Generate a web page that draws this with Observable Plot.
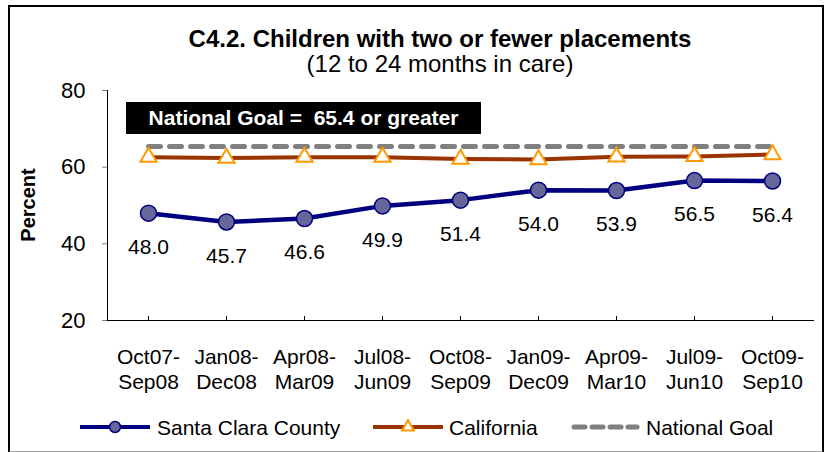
<!DOCTYPE html>
<html>
<head>
<meta charset="utf-8">
<script src="https://cdn.jsdelivr.net/npm/d3@7"></script>
<script src="https://cdn.jsdelivr.net/npm/@observablehq/plot@0.6"></script>
<style>
  html, body { margin: 0; padding: 0; background: #fff; }
  #wrap { position: relative; width: 826px; height: 452px; overflow: hidden; font-family: "Liberation Sans", Arial, sans-serif; }
  #border { position: absolute; left: 8px; top: 5px; width: 812px; height: 444px; border: 2px solid #000; border-bottom-color: #a0a0a0; }
  .abs { position: absolute; white-space: pre; }
  #title { left: 0; width: 880px; text-align: center; top: 25px; font-size: 24px; font-weight: bold; color: #000; }
  #subtitle { left: 0; width: 880px; text-align: center; top: 50px; font-size: 24px; color: #000; }
  #goalbox { left: 126px; top: 102px; width: 355px; height: 32px; background: #000; color: #fff; font-weight: bold; font-size: 21px; line-height: 32px; text-align: center; }
  #ylabel { left: 28px; top: 205px; transform: translate(-50%, -50%) rotate(-90deg); font-size: 20px; font-weight: bold; }
  #chart { position: absolute; left: 0; top: 0; }
  #legend { position: absolute; left: 0; top: 410px; }
</style>
</head>
<body>
<div id="wrap">
  <div id="chart"></div>
  <div id="border"></div>
  <div id="title" class="abs">C4.2. Children with two or fewer placements</div>
  <div id="subtitle" class="abs">(12 to 24 months in care)</div>
  <div id="goalbox" class="abs">National Goal =  65.4 or greater</div>
  <div id="ylabel" class="abs">Percent</div>
  <svg id="legend" width="826" height="36"></svg>
</div>
<script>
const categories = ["Oct07-\nSep08", "Jan08-\nDec08", "Apr08-\nMar09", "Jul08-\nJun09", "Oct08-\nSep09", "Jan09-\nDec09", "Apr09-\nMar10", "Jul09-\nJun10", "Oct09-\nSep10"];
const santaClara = [48.0, 45.7, 46.6, 49.9, 51.4, 54.0, 53.9, 56.5, 56.4];
const california = [62.6, 62.4, 62.6, 62.6, 62.1, 62.0, 62.7, 62.8, 63.3];
const nationalGoal = [65.4, 65.4, 65.4, 65.4, 65.4, 65.4, 65.4, 65.4, 65.4];
const yTicks = [20, 40, 60, 80];
const seriesNames = ["Santa Clara County", "California", "National Goal"];

const navy = "#000080", circleFill = "#666699", brown = "#993300", orange = "#FF9900", gray = "#808080";

const sc = categories.map((c, i) => ({cat: c, v: santaClara[i]}));
const ca = categories.map((c, i) => ({cat: c, v: california[i]}));
const ng = categories.map((c, i) => ({cat: c, v: nationalGoal[i]}));

const chart = Plot.plot({
  width: 826,
  height: 400,
  marginTop: 90,
  marginBottom: 80,
  marginLeft: 107,
  marginRight: 13,
  style: {fontFamily: "Liberation Sans, Arial, sans-serif", color: "#000", background: "transparent", overflow: "visible"},
  x: {type: "point", domain: categories, padding: 0.5, align: 0.5, axis: null},
  y: {domain: [20, 80], axis: null},
  marks: [
    Plot.axisY({ticks: yTicks, tickSize: 5, tickPadding: 17, fontSize: 22, stroke: gray, label: null, fontWeight: "normal"}),
    Plot.text(categories, {x: d => d, text: d => d, frameAnchor: "bottom", dy: 26, lineAnchor: "top", lineHeight: 1.17, fontSize: 21, fill: "#000", fontWeight: "normal"}),
    Plot.ruleX(categories, {x: d => d, y1: 20, y2: 20, insetBottom: 4, stroke: "#000", strokeWidth: 1}),
    Plot.frame({anchor: "left", stroke: "#000"}),
    Plot.frame({anchor: "bottom", stroke: "#000"}),
    Plot.line(ng, {x: "cat", y: "v", stroke: gray, strokeWidth: 5, strokeDasharray: "12,9", strokeLinecap: "round"}),
    Plot.line(ca, {x: "cat", y: "v", stroke: brown, strokeWidth: 4}),
    Plot.dot(ca, {x: "cat", y: "v", symbol: "triangle", r: 6, fill: "#fff", stroke: orange, strokeWidth: 2}),
    Plot.line(sc, {x: "cat", y: "v", stroke: navy, strokeWidth: 4.5}),
    Plot.dot(sc, {x: "cat", y: "v", r: 8, fill: circleFill, stroke: navy, strokeWidth: 1.5}),
    Plot.text(sc, {x: "cat", y: "v", text: d => d.v.toFixed(1), dy: 34, lineAnchor: "middle", fontSize: 21, fill: "#000"})
  ]
});
document.getElementById("chart").appendChild(chart);

// Legend
const lg = d3.select("#legend");
const cy = 17;
const items = [
  {x0: 80, x1: 150, tx: 157, name: seriesNames[0]},
  {x0: 373, x1: 443, tx: 449, name: seriesNames[1]},
  {x0: 572, x1: 639, tx: 646, name: seriesNames[2]}
];
lg.append("line").attr("x1", items[0].x0).attr("x2", items[0].x1).attr("y1", cy).attr("y2", cy).attr("stroke", navy).attr("stroke-width", 4);
lg.append("circle").attr("cx", (items[0].x0 + items[0].x1) / 2).attr("cy", cy).attr("r", 5.5).attr("fill", circleFill).attr("stroke", navy).attr("stroke-width", 1.5);
lg.append("line").attr("x1", items[1].x0).attr("x2", items[1].x1).attr("y1", cy).attr("y2", cy).attr("stroke", brown).attr("stroke-width", 4);
lg.append("path").attr("d", d3.symbol(d3.symbolTriangle, 60)()).attr("transform", `translate(${(items[1].x0 + items[1].x1) / 2},${cy})`).attr("fill", "#fff").attr("stroke", orange).attr("stroke-width", 2);
lg.append("line").attr("x1", items[2].x0 + 2).attr("x2", items[2].x1 - 2).attr("y1", cy).attr("y2", cy).attr("stroke", gray).attr("stroke-width", 5).attr("stroke-dasharray", "11,7").attr("stroke-linecap", "round");
items.forEach(it => {
  lg.append("text").attr("x", it.tx).attr("y", cy).attr("dy", "0.36em").attr("font-size", 21)
    .attr("font-family", "Liberation Sans, Arial, sans-serif").attr("fill", "#000").text(it.name);
});
</script>
</body>
</html>
